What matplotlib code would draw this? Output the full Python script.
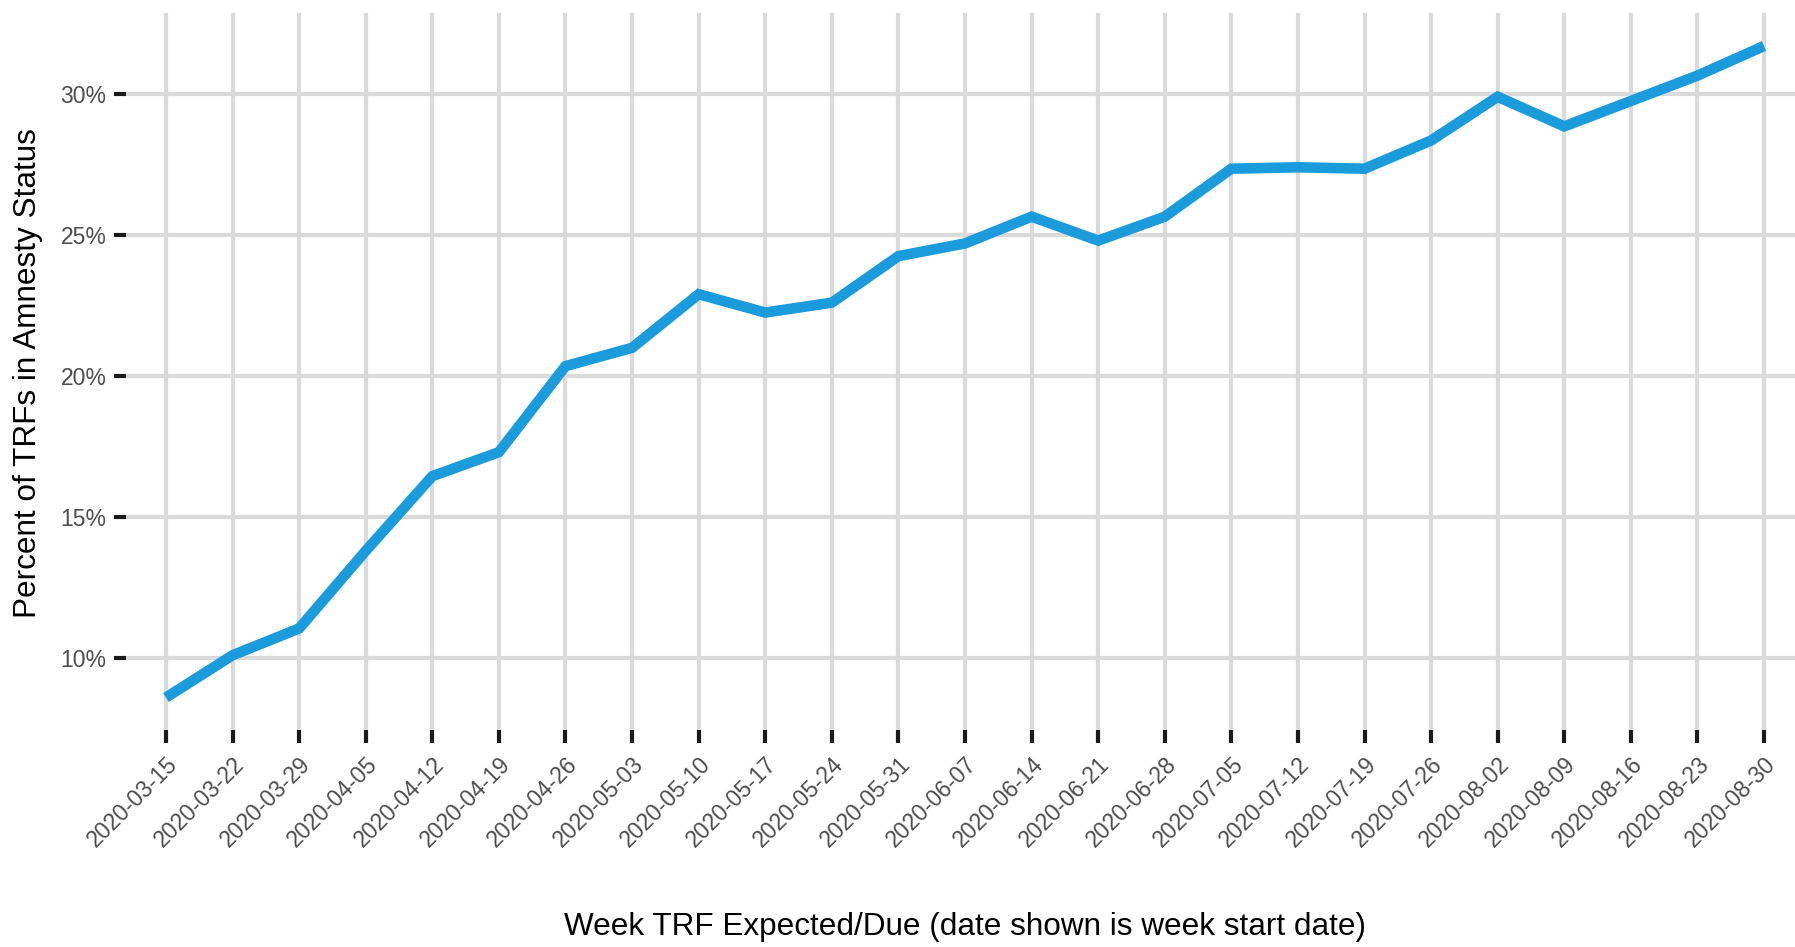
"""Weekly share of TRFs in amnesty status."""

import matplotlib

matplotlib.use("Agg")
import matplotlib.pyplot as plt
from matplotlib.ticker import FuncFormatter

plt.rcParams["font.family"] = ["Liberation Sans", "DejaVu Sans"]

weeks = [
    "2020-03-15", "2020-03-22", "2020-03-29", "2020-04-05", "2020-04-12",
    "2020-04-19", "2020-04-26", "2020-05-03", "2020-05-10", "2020-05-17",
    "2020-05-24", "2020-05-31", "2020-06-07", "2020-06-14", "2020-06-21",
    "2020-06-28", "2020-07-05", "2020-07-12", "2020-07-19", "2020-07-26",
    "2020-08-02", "2020-08-09", "2020-08-16", "2020-08-23", "2020-08-30",
]
pct_amnesty = [
    8.6, 10.1, 11.05, 13.8, 16.45,
    17.3, 20.35, 21.0, 22.9, 22.25,
    22.6, 24.25, 24.7, 25.65, 24.8,
    25.65, 27.35, 27.4, 27.35, 28.35,
    29.9, 28.85, 29.75, 30.65, 31.7,
]
y_ticks = [10, 15, 20, 25, 30]

W, H = 1795, 947
fig = plt.figure(figsize=(W / 100, H / 100), dpi=100)
fig.patch.set_facecolor("white")

# panel spans past the right edge, as in the cropped original
left, right, top, bottom = 126, 1804, 13, 730
ax = fig.add_axes([left / W, 1 - bottom / H, (right - left) / W, (bottom - top) / H])

x = list(range(len(weeks)))
ax.plot(x, pct_amnesty, color="#1A9BDB", lw=7.6, solid_capstyle="butt",
        solid_joinstyle="miter", zorder=3)

ax.set_xlim(-0.6, len(weeks) - 0.4)
ax.set_ylim(7.45, 32.87)
ax.set_xticks(x)
ax.set_xticklabels(weeks, rotation=45, ha="right", va="top",
                   rotation_mode="anchor")
ax.set_yticks(y_ticks)
ax.yaxis.set_major_formatter(FuncFormatter(lambda v, _: f"{v:.0f}%"))

ax.grid(True, color="#DADADA", lw=3.0, zorder=0)
ax.set_axisbelow(True)
for s in ax.spines.values():
    s.set_visible(False)

ax.tick_params(axis="both", length=9, width=3.0, color="#1A1A1A",
               labelcolor="#4D4D4D", labelsize=16.5)
ax.tick_params(axis="x", pad=7)
ax.tick_params(axis="y", pad=5)

fig.text(28 / W, 1 - 373 / H, "Percent of TRFs in Amnesty Status",
         rotation=90, ha="center", va="center", fontsize=22.7, color="black")
fig.text(965 / W, 1 - 927 / H,
         "Week TRF Expected/Due (date shown is week start date)",
         ha="center", va="center", fontsize=22.7, color="black")

fig.savefig("out.png", dpi=100, facecolor="white")
